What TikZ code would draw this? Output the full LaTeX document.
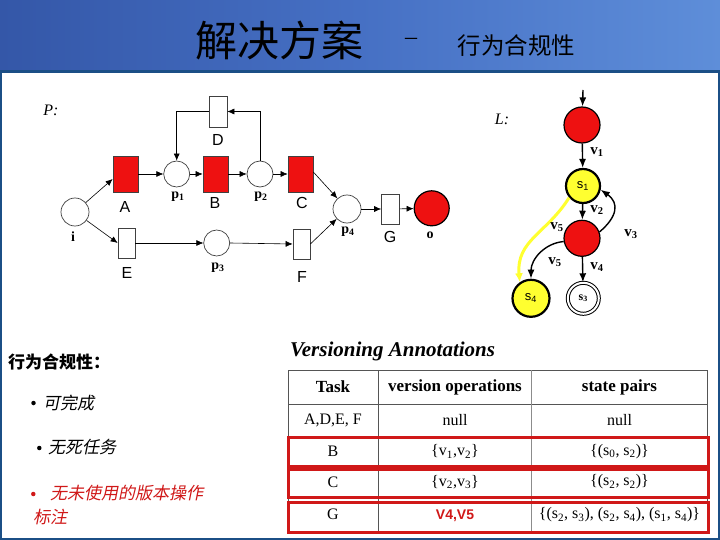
\documentclass[tikz,border=0pt]{standalone}
\usepackage{fontspec}
\setmainfont{Liberation Serif}
\newfontfamily\cjk{Noto Sans CJK SC}
\newfontfamily\cjkit[FakeSlant=0.2]{Noto Sans CJK SC}
\newfontfamily\arialf{Liberation Sans}
\usetikzlibrary{arrows.meta}
\definecolor{bannerL}{HTML}{3457A8}
\definecolor{bannerM}{HTML}{4670C4}
\definecolor{bannerR}{HTML}{5E8ED9}
\definecolor{frameblue}{HTML}{1B4F86}
\definecolor{boxred}{HTML}{D01818}
\definecolor{petrired}{HTML}{EE1111}
\definecolor{lyellow}{HTML}{FFFF30}
\definecolor{tblline}{HTML}{555555}
\tikzset{
  trans/.style={draw=black!75, line width=0.7pt, inner sep=0pt},
  redtrans/.style={trans, fill=petrired},
  place/.style={circle, draw=black!75, line width=0.7pt, inner sep=0pt, fill=white},
  arc/.style={-{Latex[length=7pt,width=6pt]}, line width=0.6pt},
  plabel/.style={font=\arialf\fontsize{16}{16}\selectfont, inner sep=0pt},
  bplabel/.style={font=\bfseries\fontsize{14}{14}\selectfont, inner sep=0pt},
  lstate/.style={circle, draw=black, line width=1.2pt, inner sep=0pt},
  larc/.style={-{Latex[length=9pt,width=7pt]}, line width=1.4pt},
  vlabel/.style={font=\bfseries\fontsize{15}{15}\selectfont, inner sep=0pt},
  cell/.style={font=\fontsize{16}{16}\selectfont, inner sep=0pt},
  hcell/.style={font=\bfseries\fontsize{17}{17}\selectfont, inner sep=0pt},
  redbox/.style={draw=boxred, line width=3pt},
  cjkbody/.style={font=\cjkit\fontsize{17}{17}\selectfont, inner sep=0pt, anchor=west},
  bulletdot/.style={circle, fill=black, inner sep=0pt, minimum size=4.5pt}
}
\begin{document}
\begin{tikzpicture}[x=1pt,y=-1pt]
\useasboundingbox (0,0) rectangle (720,540);
% banner
\shade[left color=bannerL, right color=bannerR, middle color=bannerM] (0,0) rectangle (720,72);
\fill[white] (0,72) rectangle (720,540);
\draw[frameblue, line width=3.5pt] (0,71.5) -- (720,71.5);
\draw[frameblue, line width=2.5pt] (1.2,72) -- (1.2,540);
\draw[frameblue, line width=1.5pt] (719,72) -- (719,540);
\draw[frameblue, line width=2.5pt] (0,538.8) -- (720,538.8);

% title
\node[font=\cjk\fontsize{42}{42}\selectfont, inner sep=0pt] (title) at (279,40) {解决方案};
\node[font=\fontsize{24}{24}\selectfont, inner sep=0pt] (dash) at (411,41) {–};
\node[font=\cjk\fontsize{23.5}{23.5}\selectfont, inner sep=0pt] (subtitle) at (516.5,46) {行为合规性};

% ---------- Petri net P ----------
\node[font=\itshape\fontsize{16}{16}\selectfont, inner sep=0pt] (Plab) at (51,110) {P:};
\node[place, minimum size=28pt] (i) at (75,212) {};
\node[redtrans, minimum width=25pt, minimum height=36pt] (A) at (125.5,174) {};
\node[place, minimum size=26pt] (p1) at (176.7,174) {};
\node[redtrans, minimum width=25pt, minimum height=36pt] (B) at (215.5,174) {};
\node[place, minimum size=26pt] (p2) at (260,174) {};
\node[redtrans, minimum width=25pt, minimum height=36pt] (C) at (300.5,174) {};
\node[trans, fill=white, minimum width=18pt, minimum height=31pt] (D) at (218,111.5) {};
\node[trans, fill=white, minimum width=17pt, minimum height=30pt] (E) at (126.5,243) {};
\node[place, minimum size=26pt] (p3) at (216.7,243) {};
\node[trans, fill=white, minimum width=17pt, minimum height=30pt] (F) at (301.5,244) {};
\node[place, minimum size=28pt] (p4) at (347,209) {};
\node[trans, fill=white, minimum width=18pt, minimum height=30pt] (G) at (390.5,209) {};
\node[circle, draw=black, line width=1.2pt, fill=petrired, minimum size=35pt, inner sep=0pt] (o) at (431.7,208.3) {};

\node[plabel] (Alab) at (125,207) {A};
\node[plabel] (Blab) at (215,203) {B};
\node[plabel] (Clab) at (302,203) {C};
\node[plabel] (Dlab) at (218,140) {D};
\node[plabel] (Elab) at (127,273) {E};
\node[plabel] (Flab) at (302,277) {F};
\node[plabel] (Glab) at (390,237) {G};
\node[bplabel] (p1lab) at (178,197) {p\textsubscript{1}};
\node[bplabel] (p2lab) at (261,197) {p\textsubscript{2}};
\node[bplabel] (p3lab) at (218,268) {p\textsubscript{3}};
\node[bplabel] (p4lab) at (348,232) {p\textsubscript{4}};
\node[bplabel] (ilab) at (73,237) {i};
\node[bplabel] (olab) at (430,235) {o};

\draw[arc] (i) -- ([yshift=-5pt]A.west);
\draw[arc] (i) -- (E.west);
\draw[arc] (A) -- (p1);
\draw[arc] (p1) -- (B);
\draw[arc] (B) -- (p2);
\draw[arc] (p2) -- (C);
\draw[arc] (p2.north) |- (D.east);
\draw[arc] (D.west) -| (p1.north);
\draw[arc] (E) -- (p3);
\draw[arc] (p3.east) -- (F.west);
\draw[arc] ([yshift=2pt]C.east) -- (p4);
\draw[arc] (F.east) -- (p4);
\draw[arc] (p4) -- (G);
\draw[arc] (G) -- (o);

% ---------- L graph ----------
\node[font=\itshape\fontsize{16}{16}\selectfont, inner sep=0pt] (Llab) at (502,119) {L:};
\coordinate (start) at (583,90);
\node[lstate, fill=petrired, minimum size=36pt] (r0) at (582,125) {};
\node[lstate, fill=lyellow, line width=2.2pt, minimum size=34pt, font=\arialf\fontsize{13}{13}\selectfont] (s1) at (583,186) {s\textsubscript{1}};
\node[lstate, fill=petrired, minimum size=36pt] (r2) at (582,238.3) {};
\node[lstate, fill=lyellow, line width=2.2pt, minimum size=37pt, font=\arialf\fontsize{13}{13}\selectfont] (s4) at (531,298.3) {s\textsubscript{4}};
\node[circle, draw=black, line width=1pt, double, double distance=2pt, minimum size=31pt, inner sep=0pt, font=\bfseries\fontsize{12}{12}\selectfont] (s3) at (583.3,298.3) {s\textsubscript{3}};

\draw[larc] (start) -- (r0);
\draw[larc] (r0) -- (s1);
\draw[larc] (s1) -- (r2);
\draw[larc] (r2) -- (s3);
\draw[larc] (r2.20) to[out=40, in=-35, looseness=1.4] (s1.-12);
\draw[larc] (r2.190) to[out=185, in=90] (s4.north);
\draw[-{Latex[length=9pt,width=8pt]}, line width=3pt, lyellow] (s1.220) to[out=238, in=95, looseness=1.1] (s4.125);

\node[vlabel] (v1) at (597,152) {v\textsubscript{1}};
\node[vlabel] (v2) at (597,210) {v\textsubscript{2}};
\node[vlabel] (v5a) at (557,227) {v\textsubscript{5}};
\node[vlabel] (v3) at (631,234) {v\textsubscript{3}};
\node[vlabel] (v5b) at (555,262) {v\textsubscript{5}};
\node[vlabel] (v4) at (597,267) {v\textsubscript{4}};

% ---------- left text ----------
\node[font=\cjk\bfseries\fontsize{17}{17}\selectfont, inner sep=0pt, anchor=west] (head) at (8,362) {行为合规性：};
\node[bulletdot] (b1) at (33.5,403) {};
\node[cjkbody] (t1) at (43,402.7) {可完成};
\node[bulletdot] (b2) at (39.3,448) {};
\node[cjkbody] (t2) at (48,447) {无死任务};
\node[bulletdot, fill=boxred] (b3) at (33.3,494) {};
\node[cjkbody, text=boxred] (t3) at (50,493) {无未使用的版本操作};
\node[cjkbody, text=boxred] (t4) at (33,516.7) {标注};

% ---------- table ----------
\node[font=\bfseries\itshape\fontsize{21}{21}\selectfont, inner sep=0pt, anchor=west] (va) at (290,351) {Versioning Annotations};
\draw[tblline, line width=0.8pt] (288.3,370) rectangle (707.3,531.7);
\foreach \yy in {404,436,467,497} \draw[tblline, line width=0.8pt] (288.3,\yy) -- (707.3,\yy);
\draw[tblline, line width=0.8pt] (378.3,370) -- (378.3,531.7);
\draw[black!45, line width=1.2pt] (531.7,370) -- (531.7,531.7);

\node[hcell] (h1) at (333,387) {Task};
\node[hcell] (h2) at (455,387) {version operations};
\node[hcell] (h3) at (619.5,387) {state pairs};
\node[cell] (c11) at (333,420) {A,D,E, F};
\node[cell] (c12) at (455,420) {null};
\node[cell] (c13) at (619.5,420) {null};
\node[cell] (c21) at (333,451.5) {B};
\node[cell] (c22) at (455,451.5) {\{v\textsubscript{1},v\textsubscript{2}\}};
\node[cell] (c23) at (619.5,451.5) {\{(s\textsubscript{0}, s\textsubscript{2})\}};
\node[cell] (c31) at (333,482) {C};
\node[cell] (c32) at (455,482) {\{v\textsubscript{2},v\textsubscript{3}\}};
\node[cell] (c33) at (619.5,482) {\{(s\textsubscript{2}, s\textsubscript{2})\}};
\node[cell] (c41) at (333,514) {G};
\node[font=\arialf\bfseries\fontsize{14}{14}\selectfont, text=boxred, inner sep=0pt] (c42) at (455,516) {V4,V5};
\node[cell] (c43) at (619.5,515) {\{(s\textsubscript{2}, s\textsubscript{3}), (s\textsubscript{2}, s\textsubscript{4}), (s\textsubscript{1}, s\textsubscript{4})\}};

\draw[redbox] (288.5,437) rectangle (708.5,466.5);
\draw[redbox] (288.5,469.5) rectangle (708.5,497);
\draw[redbox] (288.5,502) rectangle (708.5,532.5);
\end{tikzpicture}
\end{document}
